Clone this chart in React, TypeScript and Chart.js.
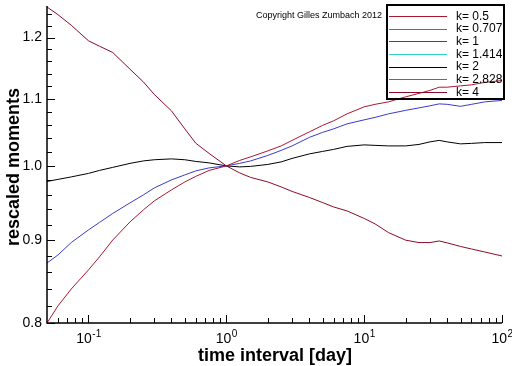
import React, { useEffect, useRef } from "react";
import { Chart, registerables } from "chart.js";

Chart.register(...registerables);

// time interval [day]
const intervals = [0.05, 0.06, 0.075, 0.1, 0.12, 0.15, 0.2, 0.25, 0.3, 0.4, 0.5, 0.6, 0.75, 1, 1.25, 1.5, 2, 2.5, 3, 4, 5, 6, 7.5, 10, 12, 15, 20, 25, 30, 35, 40, 50, 60, 75, 100];

const momentK05 = [0.8, 0.8196, 0.8396, 0.8627, 0.8787, 0.9001, 0.9235, 0.9394, 0.9515, 0.9665, 0.9775, 0.9852, 0.9936, 1.0, 1.0078, 1.0129, 1.0216, 1.0288, 1.0369, 1.0495, 1.0593, 1.0661, 1.0767, 1.0875, 1.0914, 1.0952, 1.1031, 1.1085, 1.1132, 1.1183, 1.1183, 1.1204, 1.122, 1.126, 1.1289];
const momentK0707: number[] = [];
const momentK1 = [0.8712, 0.8811, 0.8969, 0.9131, 0.9228, 0.9347, 0.9488, 0.9596, 0.9692, 0.9803, 0.9873, 0.9929, 0.9972, 1.0, 1.0036, 1.0071, 1.015, 1.0223, 1.0288, 1.0413, 1.0488, 1.054, 1.0615, 1.0676, 1.0713, 1.0767, 1.0821, 1.0859, 1.0891, 1.0921, 1.0914, 1.0883, 1.0914, 1.0952, 1.0975];
const momentK1414: number[] = [];
const momentK2 = [0.9782, 0.981, 0.9845, 0.9894, 0.9936, 0.9979, 1.0036, 1.0071, 1.0088, 1.01, 1.0088, 1.0064, 1.0043, 1.0, 0.9986, 0.9993, 1.0021, 1.0057, 1.0107, 1.0172, 1.0208, 1.0237, 1.0281, 1.0303, 1.0296, 1.0288, 1.0288, 1.031, 1.0347, 1.0369, 1.0347, 1.0318, 1.0325, 1.0337, 1.0337];
const momentK2828: number[] = [];
const momentK4 = [1.2532, 1.2397, 1.2211, 1.1945, 1.1854, 1.1748, 1.1473, 1.1268, 1.1069, 1.0813, 1.054, 1.0328, 1.0179, 1.0, 0.9901, 0.9838, 0.9775, 0.9706, 0.9644, 0.9562, 0.9492, 0.9434, 0.9381, 0.9281, 0.9209, 0.9097, 0.8999, 0.8968, 0.8968, 0.8989, 0.8964, 0.8919, 0.8887, 0.8849, 0.8799];

const seriesLabels = ["k= 0.5", "k= 0.707", "k= 1", "k= 1.414", "k= 2", "k= 2.828", "k= 4"];
const seriesValues = [momentK05, momentK0707, momentK1, momentK1414, momentK2, momentK2828, momentK4];
const seriesColors = ["#a81830", "#10b010", "#3a3ac8", "#30d0d0", "#000000", "#c030c0", "#8c0a28"];

const yMajorTicks = [0.8, 0.9, 1.0, 1.1, 1.2];
const yMajorLabels = ["0.8", "0.9", "1.0", "1.1", "1.2"];
const yMinorTicks = [0.82, 0.84, 0.86, 0.88, 0.92, 0.94, 0.96, 0.98, 1.02, 1.04, 1.06, 1.08, 1.12, 1.14, 1.16, 1.18, 1.22, 1.24];
const xMajorTicks = [0.1, 1, 10, 100];
const xMajorExponents = ["-1", "0", "1", "2"];
const xMinorTicks = [0.06, 0.07, 0.08, 0.09, 0.2, 0.3, 0.4, 0.5, 0.6, 0.7, 0.8, 0.9, 2, 3, 4, 5, 6, 7, 8, 9, 20, 30, 40, 50, 60, 70, 80, 90];

const FONT = '"Liberation Sans", Arial, Helvetica, sans-serif';

const decorPlugin = {
  id: "decor",
  afterDraw(chart: any) {
    const ctx = chart.ctx as CanvasRenderingContext2D;
    const xs = chart.scales.x;
    const ys = chart.scales.y;
    const area = chart.chartArea;
    ctx.save();
    ctx.strokeStyle = "#000";
    ctx.fillStyle = "#000";
    ctx.lineWidth = 1.5;
    // axes
    ctx.beginPath();
    ctx.moveTo(area.left, area.top);
    ctx.lineTo(area.left, area.bottom);
    ctx.lineTo(area.right, area.bottom);
    ctx.stroke();
    ctx.lineWidth = 1;
    // y ticks
    ctx.beginPath();
    yMajorTicks.forEach((v) => {
      const p = Math.round(ys.getPixelForValue(v)) + 0.5;
      ctx.moveTo(area.left, p);
      ctx.lineTo(area.left + 8, p);
    });
    yMinorTicks.forEach((v) => {
      const p = Math.round(ys.getPixelForValue(v)) + 0.5;
      ctx.moveTo(area.left, p);
      ctx.lineTo(area.left + 5, p);
    });
    // x ticks
    xMajorTicks.forEach((v) => {
      const p = Math.round(xs.getPixelForValue(v)) + 0.5;
      ctx.moveTo(p, area.bottom);
      ctx.lineTo(p, area.bottom - 8);
    });
    xMinorTicks.forEach((v) => {
      const p = Math.round(xs.getPixelForValue(v)) + 0.5;
      ctx.moveTo(p, area.bottom);
      ctx.lineTo(p, area.bottom - 5);
    });
    ctx.stroke();

    // y labels
    ctx.font = "14px " + FONT;
    ctx.textAlign = "right";
    ctx.textBaseline = "middle";
    yMajorTicks.forEach((v, i) => {
      ctx.fillText(yMajorLabels[i], area.left - 5, ys.getPixelForValue(v));
    });
    // x labels 10^n
    ctx.textBaseline = "alphabetic";
    ctx.textAlign = "left";
    xMajorTicks.forEach((v, i) => {
      ctx.font = "14px " + FONT;
      const wBase = ctx.measureText("10").width;
      ctx.font = "10px " + FONT;
      const wExp = ctx.measureText(xMajorExponents[i]).width;
      const p = xs.getPixelForValue(v);
      const start = p - (wBase + wExp) / 2;
      ctx.font = "14px " + FONT;
      ctx.fillText("10", start, area.bottom + 20);
      ctx.font = "10px " + FONT;
      ctx.fillText(xMajorExponents[i], start + wBase + 0.5, area.bottom + 14);
    });

    // axis titles
    ctx.font = "bold 18px " + FONT;
    ctx.textAlign = "center";
    ctx.fillText("time interval [day]", (area.left + area.right) / 2 + 0.5, 361);
    ctx.save();
    ctx.translate(19, 167);
    ctx.rotate(-Math.PI / 2);
    ctx.fillText("rescaled moments", 0, 0);
    ctx.restore();

    // copyright
    ctx.font = "9px " + FONT;
    ctx.textAlign = "left";
    ctx.textBaseline = "middle";
    ctx.fillText("Copyright Gilles Zumbach 2012", 256, 16);

    // legend
    ctx.lineWidth = 2;
    ctx.strokeRect(387, 5, 117, 94);
    ctx.font = "12px " + FONT;
    chart.data.datasets.forEach((ds: any, i: number) => {
      const yy = 16 + i * 12.67;
      ctx.strokeStyle = ds.borderColor;
      ctx.lineWidth = 1;
      ctx.beginPath();
      ctx.moveTo(389, Math.round(yy) + 0.5);
      ctx.lineTo(447, Math.round(yy) + 0.5);
      ctx.stroke();
      ctx.fillStyle = "#000";
      ctx.fillText(ds.label, 456, yy + 0.5);
    });
    ctx.restore();
  },
};

export default function App() {
  const canvasRef = useRef<HTMLCanvasElement | null>(null);
  useEffect(() => {
    const canvas = canvasRef.current;
    if (!canvas) return;
    const chart = new Chart(canvas, {
      type: "line",
      data: {
        datasets: seriesLabels.map((label, i) => ({
          label,
          data: seriesValues[i].map((y, j) => ({ x: intervals[j], y })),
          borderColor: seriesColors[i],
          backgroundColor: seriesColors[i],
          borderWidth: 1,
          pointRadius: 0,
          tension: 0,
          fill: false,
        })),
      },
      options: {
        responsive: false,
        maintainAspectRatio: false,
        animation: false,
        devicePixelRatio: 1,
        layout: { padding: { left: 47, right: 10, top: 6, bottom: 43 } },
        plugins: { legend: { display: false }, tooltip: { enabled: false } },
        scales: {
          x: { type: "logarithmic", min: 0.05, max: 100, display: false },
          y: { type: "logarithmic", min: 0.8, max: 1.255, display: false },
        },
      },
      plugins: [decorPlugin],
    });
    return () => chart.destroy();
  }, []);
  return (
    <div style={{ position: "absolute", left: 0, top: 0, width: 512, height: 366, background: "#fff" }}>
      <canvas ref={canvasRef} width={512} height={366} style={{ display: "block" }} />
    </div>
  );
}
